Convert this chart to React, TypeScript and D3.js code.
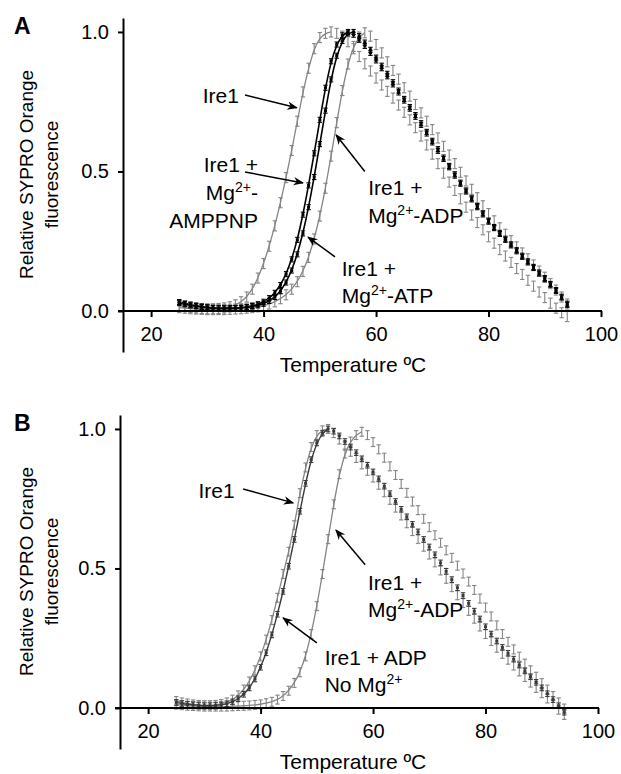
import React, { useRef, useEffect } from 'react';
import * as d3 from 'd3';

// temperature (ºC) of every reading, one per degree
const temps = [
  25, 26, 27, 28, 29, 30, 31, 32, 33, 34, 35, 36, 37, 38, 39, 40, 41, 42, 43, 44,
  45, 46, 47, 48, 49, 50, 51, 52, 53, 54, 55, 56, 57, 58, 59, 60, 61, 62, 63, 64,
  65, 66, 67, 68, 69, 70, 71, 72, 73, 74, 75, 76, 77, 78, 79, 80, 81, 82, 83, 84,
  85, 86, 87, 88, 89, 90, 91, 92, 93, 94,
];

// panel A
const ire1A = [
  0.020, 0.016, 0.013, 0.011, 0.009, 0.008, 0.008, 0.009, 0.011, 0.015,
  0.022, 0.033, 0.050, 0.078, 0.118, 0.170, 0.232, 0.305, 0.388, 0.478,
  0.575, 0.680, 0.785, 0.870, 0.940, 0.980, 0.995, 1.000, 0.995, 0.985,
  0.965, 0.940, 0.912, 0.886, 0.860, 0.835, 0.810, 0.787, 0.763, 0.738,
  0.712, 0.685, 0.657, 0.627, 0.595, 0.562, 0.528, 0.494, 0.462, 0.432,
  0.402, 0.372, 0.344, 0.317, 0.291, 0.266, 0.243, 0.220, 0.197, 0.174,
  0.152, 0.131, 0.110, 0.089, 0.068, 0.048, 0.028, 0.010, -0.006, -0.020,
];
const amppnpA = [
  0.032, 0.027, 0.023, 0.019, 0.016, 0.013, 0.011, 0.010, 0.010, 0.010,
  0.011, 0.012, 0.014, 0.018, 0.024, 0.033, 0.046, 0.065, 0.093, 0.132,
  0.185, 0.255, 0.345, 0.450, 0.565, 0.685, 0.800, 0.895, 0.955, 0.988,
  1.000, 0.990, 0.972, 0.950, 0.925, 0.898, 0.870, 0.841, 0.812, 0.783,
  0.754, 0.725, 0.696, 0.667, 0.636, 0.604, 0.574, 0.545, 0.515, 0.485,
  0.456, 0.428, 0.400, 0.372, 0.346, 0.320, 0.297, 0.276, 0.255, 0.235,
  0.214, 0.194, 0.174, 0.154, 0.134, 0.114, 0.094, 0.072, 0.048, 0.022,
];
const atpA = [
  0.028, 0.024, 0.020, 0.017, 0.014, 0.012, 0.010, 0.009, 0.009, 0.009,
  0.010, 0.011, 0.013, 0.016, 0.020, 0.026, 0.036, 0.050, 0.071, 0.102,
  0.145, 0.203, 0.278, 0.372, 0.480, 0.598, 0.718, 0.830, 0.915, 0.968,
  0.995, 1.000, 0.985, 0.962, 0.936, 0.908, 0.879, 0.850, 0.820, 0.790,
  0.760, 0.731, 0.702, 0.673, 0.642, 0.610, 0.580, 0.550, 0.520, 0.490,
  0.460, 0.432, 0.404, 0.376, 0.350, 0.324, 0.301, 0.280, 0.259, 0.239,
  0.218, 0.198, 0.178, 0.158, 0.138, 0.118, 0.097, 0.075, 0.051, 0.026,
];
const adpA = [
  0.012, 0.010, 0.008, 0.007, 0.006, 0.005, 0.005, 0.005, 0.005, 0.006,
  0.007, 0.008, 0.010, 0.012, 0.015, 0.019, 0.025, 0.033, 0.044, 0.058,
  0.078, 0.105, 0.142, 0.192, 0.258, 0.340, 0.440, 0.555, 0.675, 0.790,
  0.885, 0.948, 0.982, 0.997, 0.985, 0.955, 0.925, 0.893, 0.862, 0.831,
  0.800, 0.770, 0.740, 0.710, 0.680, 0.650, 0.620, 0.590, 0.559, 0.528,
  0.497, 0.466, 0.436, 0.406, 0.377, 0.349, 0.323, 0.298, 0.275, 0.252,
  0.230, 0.208, 0.187, 0.165, 0.143, 0.121, 0.098, 0.075, 0.050, 0.025,
];

// panel B
const ire1B = [
  0.025, 0.020, 0.016, 0.013, 0.011, 0.010, 0.010, 0.011, 0.014, 0.020,
  0.030, 0.045, 0.066, 0.095, 0.135, 0.185, 0.245, 0.315, 0.395, 0.480,
  0.560, 0.655, 0.770, 0.862, 0.935, 0.978, 0.995, 1.000, 0.985, 0.962,
  0.940, 0.918, 0.896, 0.873, 0.850, 0.826, 0.800, 0.773, 0.746, 0.718,
  0.690, 0.662, 0.634, 0.606, 0.578, 0.550, 0.522, 0.493, 0.463, 0.433,
  0.404, 0.376, 0.348, 0.320, 0.292, 0.265, 0.240, 0.216, 0.194, 0.173,
  0.152, 0.131, 0.111, 0.091, 0.072, 0.053, 0.034, 0.014, -0.006, -0.025,
];
const noMgB = [
  0.020, 0.016, 0.013, 0.011, 0.009, 0.008, 0.008, 0.009, 0.011, 0.015,
  0.022, 0.033, 0.049, 0.072, 0.104, 0.146, 0.198, 0.262, 0.336, 0.418,
  0.508, 0.604, 0.705, 0.805, 0.890, 0.950, 0.985, 1.000, 0.992, 0.975,
  0.955, 0.935, 0.915, 0.893, 0.870, 0.846, 0.821, 0.795, 0.768, 0.740,
  0.712, 0.685, 0.658, 0.631, 0.604, 0.577, 0.549, 0.520, 0.490, 0.460,
  0.431, 0.403, 0.375, 0.347, 0.319, 0.291, 0.265, 0.240, 0.217, 0.196,
  0.175, 0.154, 0.133, 0.112, 0.092, 0.072, 0.051, 0.030, 0.008, -0.015,
];
const mgAdpB = [
  0.012, 0.010, 0.008, 0.007, 0.006, 0.005, 0.005, 0.005, 0.005, 0.005,
  0.006, 0.007, 0.008, 0.009, 0.011, 0.013, 0.017, 0.022, 0.030, 0.043,
  0.062, 0.090, 0.128, 0.185, 0.265, 0.365, 0.480, 0.605, 0.730, 0.838,
  0.912, 0.955, 0.978, 0.990, 0.978, 0.953, 0.927, 0.897, 0.866, 0.835,
  0.803, 0.771, 0.740, 0.709, 0.678, 0.648, 0.619, 0.592, 0.565, 0.538,
  0.510, 0.482, 0.453, 0.423, 0.392, 0.360, 0.328, 0.296, 0.265, 0.237,
  0.210, 0.184, 0.159, 0.135, 0.112, 0.089, 0.066, 0.043, 0.020, -0.002,
];

const xTicks = [20, 40, 60, 80, 100];
const yTicks = [0, 0.5, 1.0];

const FONT = '"Liberation Sans", Arial, Helvetica, sans-serif';
const GRAY = '#858585';

// a label line is a list of [text, superscript?] pieces
const SUP = true;

const panels = [
  {
    letter: 'A',
    xRange: [123, 601],
    yRange: [352, 18],
    series: [
      { values: ire1A, color: GRAY, line: GRAY, lw: 1.3, err: 0.018, square: false },
      { values: adpA, color: GRAY, line: GRAY, lw: 1.3, err: 0.018, square: false },
      { values: amppnpA, color: '#000', line: '#000', lw: 1.6, err: 0.009, square: true },
      { values: atpA, color: '#000', line: '#000', lw: 1.6, err: 0.009, square: true },
    ],
    notes: [
      { anchor: 'end', t: 35.6, v: 0.746, lh: 28, lines: [[['Ire1']]], from: [36.7, 0.774], to: [45.9, 0.728] },
      {
        anchor: 'end', t: 39.0, v: 0.498, lh: 28,
        lines: [[['Ire1 +']], [['Mg'], ['2+', SUP], ['-']], [['AMPPNP']]],
        from: [36.7, 0.498], to: [47.0, 0.459],
      },
      {
        anchor: 'start', t: 58.6, v: 0.416, lh: 28,
        lines: [[['Ire1 +']], [['Mg'], ['2+', SUP], ['-ADP']]],
        from: [58.0, 0.5], to: [52.9, 0.631],
      },
      {
        anchor: 'start', t: 53.9, v: 0.125, lh: 27,
        lines: [[['Ire1 +']], [['Mg'], ['2+', SUP], ['-ATP']]],
        from: [52.7, 0.194], to: [47.9, 0.265],
      },
    ],
  },
  {
    letter: 'B',
    xRange: [120, 598],
    yRange: [749, 415],
    series: [
      { values: mgAdpB, color: GRAY, line: GRAY, lw: 1.3, err: 0.016, square: false },
      { values: ire1B, color: GRAY, line: GRAY, lw: 1.3, err: 0.016, square: false },
      { values: noMgB, color: '#3a3a3a', line: '#3a3a3a', lw: 1.4, err: 0.01, square: true },
    ],
    notes: [
      { anchor: 'end', t: 35.4, v: 0.753, lh: 27, lines: [[['Ire1']]], from: [36.9, 0.785], to: [45.8, 0.735] },
      {
        anchor: 'start', t: 59.1, v: 0.423, lh: 27,
        lines: [[['Ire1 +']], [['Mg'], ['2+', SUP], ['-ADP']]],
        from: [58.6, 0.513], to: [53.4, 0.638],
      },
      {
        anchor: 'start', t: 51.4, v: 0.154, lh: 27,
        lines: [[['Ire1 + ADP']], [['No Mg'], ['2+', SUP]]],
        from: [50.0, 0.233], to: [44.0, 0.323],
      },
    ],
  },
];

const drawPanel = (svg, p) => {
  const x = d3.scaleLinear().domain([15, 100]).range(p.xRange);
  const y = d3.scaleLinear().domain([-0.147, 1.05]).range(p.yRange);
  const g = svg.append('g');

  // fitted melting curves, drawn up to each maximum
  const line = d3
    .line()
    .x((d) => x(d[0]))
    .y((d) => y(d[1]))
    .curve(d3.curveBasis);

  p.series.forEach((s) => {
    const peak = d3.maxIndex(s.values);
    const pts = temps.slice(0, peak + 1).map((t, i) => [t, s.values[i]]);
    g.append('path')
      .attr('d', line(pts))
      .attr('fill', 'none')
      .attr('stroke', s.line)
      .attr('stroke-width', s.lw);
  });

  // readings with error bars
  p.series.forEach((s) => {
    const pts = g.append('g').attr('stroke', s.color).attr('stroke-width', 1.1);
    temps.forEach((t, i) => {
      const cx = x(t);
      const v = s.values[i];
      const y0 = y(v - s.err);
      const y1 = y(v + s.err);
      pts.append('line').attr('x1', cx).attr('x2', cx).attr('y1', y0).attr('y2', y1);
      pts.append('line').attr('x1', cx - 2.2).attr('x2', cx + 2.2).attr('y1', y0).attr('y2', y0);
      pts.append('line').attr('x1', cx - 2.2).attr('x2', cx + 2.2).attr('y1', y1).attr('y2', y1);
      if (s.square) {
        pts.append('rect')
          .attr('x', cx - 1.5)
          .attr('y', y(v) - 1.5)
          .attr('width', 3)
          .attr('height', 3)
          .attr('fill', s.color)
          .attr('stroke', 'none');
      }
    });
  });

  // axes
  const y0 = y(0);
  const xAxis = d3.axisBottom(x).tickValues(xTicks).tickSize(6).tickPadding(10).tickSizeOuter(0);
  const yAxis = d3.axisLeft(y).tickValues(yTicks).tickSize(5).tickPadding(9).tickSizeOuter(0)
    .tickFormat(d3.format('.1f'));

  const ax = g.append('g').attr('transform', `translate(0,${y0})`).call(xAxis);
  ax.select('.domain').remove();
  ax.append('line')
    .attr('x1', p.xRange[0] - 5)
    .attr('x2', p.xRange[1] + 1)
    .attr('stroke', '#000')
    .attr('stroke-width', 2);

  const ay = g.append('g').attr('transform', `translate(${p.xRange[0]},0)`).call(yAxis);
  ay.select('.domain').attr('stroke-width', 2);

  [ax, ay].forEach((a) => {
    a.selectAll('.tick line').attr('stroke', '#000').attr('stroke-width', 2);
    a.selectAll('.tick text')
      .attr('fill', '#000')
      .style('font-family', FONT)
      .style('font-size', '20px');
  });

  // axis titles
  g.append('text')
    .attr('x', 353)
    .attr('y', y0 + 61)
    .attr('text-anchor', 'middle')
    .style('font-family', FONT)
    .style('font-size', '21px')
    .text('Temperature ºC');

  const midY = y(0.5) + 3;
  [['Relative SYPRO Orange', 33], ['fluorescence', 58]].forEach(([txt, bx]) => {
    g.append('text')
      .attr('transform', `translate(${bx},${midY}) rotate(-90)`)
      .attr('text-anchor', 'middle')
      .style('font-family', FONT)
      .style('font-size', '19px')
      .text(txt);
  });

  g.append('text')
    .attr('x', 14)
    .attr('y', y(1) + 2)
    .style('font-family', FONT)
    .style('font-size', '23px')
    .style('font-weight', 'bold')
    .text(p.letter);

  // labels and arrows
  p.notes.forEach((n) => {
    g.append('line')
      .attr('x1', x(n.from[0]))
      .attr('y1', y(n.from[1]))
      .attr('x2', x(n.to[0]))
      .attr('y2', y(n.to[1]))
      .attr('stroke', '#000')
      .attr('stroke-width', 1.5)
      .attr('marker-end', 'url(#arrow)');

    n.lines.forEach((pieces, li) => {
      const text = g.append('text')
        .attr('x', x(n.t))
        .attr('y', y(n.v) + li * n.lh)
        .attr('text-anchor', n.anchor)
        .style('font-family', FONT)
        .style('font-size', '21px');
      let raised = false;
      pieces.forEach(([str, sup]) => {
        const ts = text.append('tspan').text(str);
        if (sup) {
          ts.attr('dy', -8).style('font-size', '14px');
          raised = true;
        } else if (raised) {
          ts.attr('dy', 8);
          raised = false;
        }
      });
    });
  });
};

const App = () => {
  const chartRef = useRef(null);

  useEffect(() => {
    const svg = d3.select(chartRef.current);
    svg.selectAll('*').remove();

    svg.append('defs')
      .append('marker')
      .attr('id', 'arrow')
      .attr('viewBox', '0 0 10 10')
      .attr('refX', 9)
      .attr('refY', 5)
      .attr('markerWidth', 7)
      .attr('markerHeight', 7)
      .attr('orient', 'auto')
      .append('path')
      .attr('d', 'M0,1 L10,5 L0,9 L3,5 Z')
      .attr('fill', '#000');

    panels.forEach((p) => drawPanel(svg, p));
  }, []);

  return (
    <svg
      ref={chartRef}
      width={621}
      height={774}
      style={{ position: 'absolute', left: 0, top: 0, background: '#fff' }}
    />
  );
};

export default App;
